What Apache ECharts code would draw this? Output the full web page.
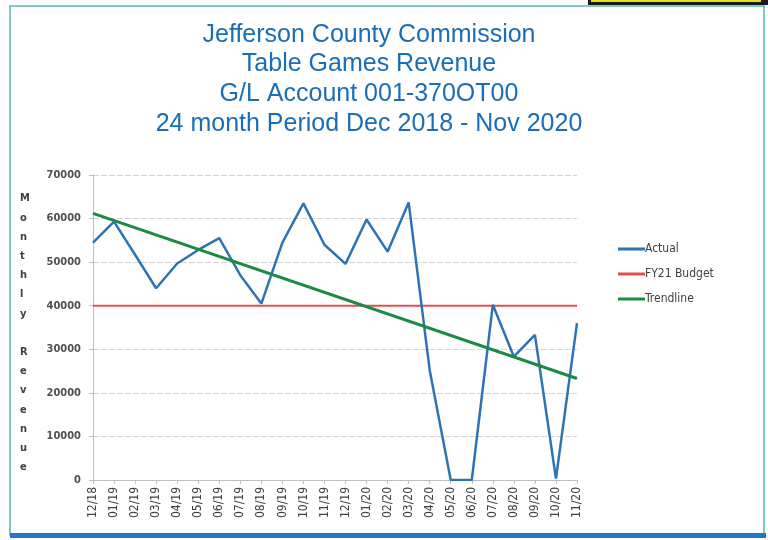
<!DOCTYPE html>
<html>
<head>
<meta charset="utf-8">
<script src="https://cdn.jsdelivr.net/npm/echarts@6/dist/echarts.min.js"></script>
<style>
  html, body { margin: 0; padding: 0; background: #fff; }
  #chart { width: 768px; height: 540px; }
</style>
</head>
<body>
<div id="chart"></div>
<script>
// months Dec 2018 - Nov 2020
var months = ['12/18', '01/19', '02/19', '03/19', '04/19', '05/19', '06/19', '07/19', '08/19', '09/19', '10/19', '11/19',
    '12/19', '01/20', '02/20', '03/20', '04/20', '05/20', '06/20', '07/20', '08/20', '09/20', '10/20', '11/20'];
var actual = [54500, 59300, 51700, 44000, 49700, 52800, 55500, 47000, 40500, 54500, 63500, 54000,
    49600, 59800, 52400, 63700, 25200, 0, 0, 40200, 28300, 33300, 300, 36000];
var budget = [40000, 40000, 40000, 40000, 40000, 40000, 40000, 40000, 40000, 40000, 40000, 40000,
    40000, 40000, 40000, 40000, 40000, 40000, 40000, 40000, 40000, 40000, 40000, 40000];
// trendline: only the two ends are read, the line joins them
var trend = [61200, null, null, null, null, null, null, null, null, null, null, null,
    null, null, null, null, null, null, null, null, null, null, null, 23300];
var titleLines = ['Jefferson County Commission', 'Table Games Revenue', 'G/L Account 001-370OT00', '24 month Period Dec 2018 - Nov 2020'];
var yName = 'Monthly Revenue';

var labelFont = 'DejaVu Sans Condensed, Liberation Sans, sans-serif';
var myChart = echarts.init(document.getElementById('chart'));

var option = {
    animation: false,
    textStyle: { fontFamily: 'Liberation Sans, Arial, sans-serif' },
    title: {
        text: titleLines.join('\n'),
        left: 364,
        textAlign: 'center',
        top: 15,
        textStyle: {
            color: '#1b6db8',
            fontSize: 25,
            fontWeight: 'normal',
            lineHeight: 29.7,
            fontFamily: 'Liberation Sans, Arial, sans-serif'
        }
    },
    legend: {
        orient: 'vertical',
        left: 613,
        top: 238,
        itemGap: 13,
        itemWidth: 27,
        itemHeight: 3,
        textStyle: { color: '#404040', fontSize: 12, fontFamily: labelFont, padding: [0, 0, 0, -5] },
        data: [
            { name: 'Actual', icon: 'rect' },
            { name: 'FY21 Budget', icon: 'rect' },
            { name: 'Trendline', icon: 'rect' }
        ]
    },
    grid: {
        left: 93,
        right: 191,
        top: 175,
        bottom: 60
    },
    xAxis: {
        type: 'category',
        data: months,
        boundaryGap: false,
        axisLine: { lineStyle: { color: '#bfbfbf' } },
        axisTick: { show: true, length: 4, alignWithLabel: true, lineStyle: { color: '#bfbfbf' } },
        axisLabel: {
            rotate: 90,
            interval: 0,
            color: '#404040',
            fontSize: 12,
            margin: 7,
            fontFamily: labelFont
        },
        splitLine: { show: false }
    },
    yAxis: {
        type: 'value',
        min: 0,
        max: 70000,
        interval: 10000,
        axisLine: { show: true, lineStyle: { color: '#bfbfbf' } },
        axisTick: { show: true, length: 4, lineStyle: { color: '#bfbfbf' } },
        axisLabel: {
            color: '#505050',
            fontSize: 11,
            fontWeight: 'bold',
            margin: 12,
            fontFamily: labelFont,
            formatter: function (v) { return String(v); }
        },
        splitLine: { lineStyle: { color: '#d4d4d4', type: [6, 2] } }
    },
    graphic: [
        {
            type: 'text',
            left: 20,
            top: 189,
            style: {
                text: yName.split('').join('\n').replace('\n \n', '\n\n'),
                fill: '#404040',
                font: 'bold 11px DejaVu Sans Condensed, Liberation Sans, sans-serif',
                lineHeight: 19.2,
                align: 'center',
                width: 12
            }
        },
        {
            type: 'rect',
            shape: { x: 10, y: 6, width: 754, height: 529 },
            style: { fill: 'none', stroke: '#55b8b2', lineWidth: 1.5 },
            z: -1
        },
        {
            type: 'rect',
            shape: { x: 10, y: 533, width: 756, height: 5 },
            style: { fill: '#1f78c8' }
        },
        {
            type: 'rect',
            shape: { x: 588, y: 0, width: 180, height: 5 },
            style: { fill: '#1a1a1a' }
        },
        {
            type: 'rect',
            shape: { x: 591, y: 0, width: 170, height: 2 },
            style: { fill: '#e8e020' }
        }
    ],
    series: [
        {
            name: 'Actual',
            type: 'line',
            data: actual,
            symbol: 'none',
            color: '#2e74b5',
            lineStyle: { width: 2.5, color: '#2e74b5' },
            z: 3
        },
        {
            name: 'FY21 Budget',
            type: 'line',
            data: budget,
            symbol: 'none',
            color: '#e0504c',
            lineStyle: { width: 2, color: '#e0504c' },
            z: 2
        },
        {
            name: 'Trendline',
            type: 'line',
            data: trend,
            connectNulls: true,
            symbol: 'none',
            color: '#1b8a45',
            lineStyle: { width: 3, color: '#1b8a45' },
            z: 4
        }
    ]
};

myChart.setOption(option);
window.addEventListener('resize', function () {
    myChart.resize();
});
</script>
</body>
</html>
